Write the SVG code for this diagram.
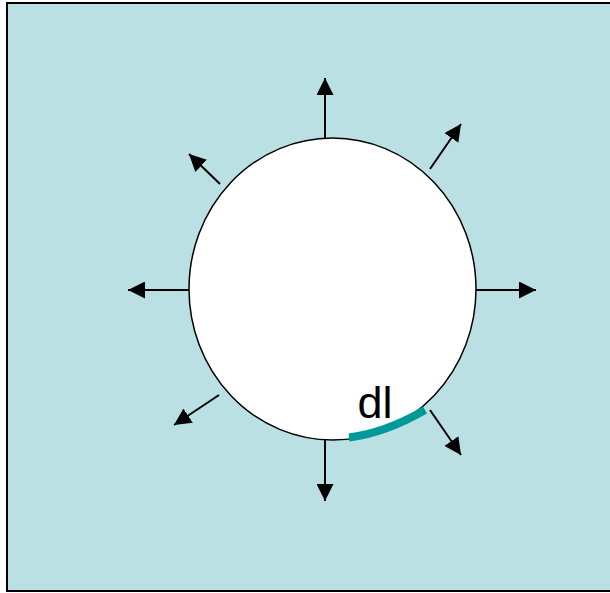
<svg xmlns="http://www.w3.org/2000/svg" width="610" height="593" viewBox="0 0 610 593">
<defs>
<style>
.ray{stroke:#000;stroke-width:2;fill:none;marker-end:url(#ah)}
</style>
<marker id="ah" viewBox="0 0 10 10" refX="10" refY="5" markerUnits="userSpaceOnUse" markerWidth="17" markerHeight="17" orient="auto">
<path d="M0,0 L10,5 L0,10 Z" fill="#000"/>
</marker>
</defs>
<rect x="0" y="0" width="610" height="593" fill="#fff"/>
<rect id="field" x="7" y="3" width="610" height="588" fill="#bbe0e3" stroke="#000" stroke-width="2"/>
<g id="circle">
<ellipse cx="332.5" cy="289" rx="143.5" ry="151" fill="#fff" stroke="#000" stroke-width="1.5"/>
</g>
<g id="connectors">
<line class="ray" x1="325" y1="138" x2="325" y2="78"/>
<line class="ray" x1="325" y1="440" x2="325" y2="501"/>
<line class="ray" x1="189" y1="290" x2="128" y2="290"/>
<line class="ray" x1="476" y1="290" x2="536" y2="290"/>
<line class="ray" x1="220" y1="184" x2="189" y2="154"/>
<line class="ray" x1="430" y1="169" x2="461" y2="124"/>
<line class="ray" x1="219" y1="395" x2="174" y2="425"/>
<line class="ray" x1="430" y1="410" x2="461" y2="455"/>
</g>
<g id="dl">
<path d="M349,437.5 Q385,433 425,410" fill="none" stroke="#00999a" stroke-width="8"/>
<text x="357.5" y="418" font-family="Liberation Sans, Arial, sans-serif" font-size="45" fill="#000">dl</text>
</g>
</svg>
